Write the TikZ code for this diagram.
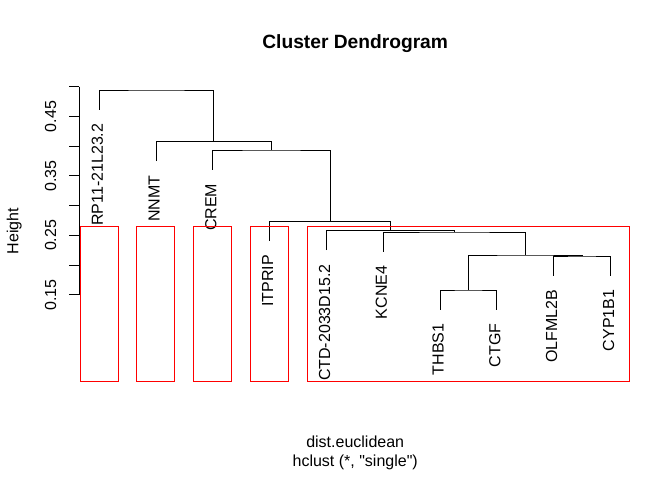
\documentclass[tikz,border=0pt]{standalone}
\usepackage{fontspec}
\setmainfont{Liberation Sans}[Ligatures=TeXOff]
\usepackage{tikz}

\begin{document}
\begin{tikzpicture}[x=1pt,y=-1pt]
\tikzset{
    leaf/.style={%
        rotate=90,
        anchor=east,
        inner sep=0pt,
        font=\fontsize{16}{19}\selectfont
        },
    lab/.style={%
        inner sep=0pt,
        font=\fontsize{16}{19}\selectfont
        },
    link/.style={%
        draw=black,
        line width=1pt
        },
    clus/.style={%
        draw=red,
        line width=1pt
        },
}
\useasboundingbox (0,0) rectangle (672,480);
%%%TITLES
\node[lab, font=\fontsize{19.2}{23}\selectfont\bfseries, anchor=base] (title) at (355.2,48) {Cluster Dendrogram};
\node[lab, anchor=base] (xlab) at (355.2,447.3) {dist.euclidean};
\node[lab, anchor=base] (sub) at (355.2,466) {hclust (*, "single")};
\node[lab, rotate=90, anchor=base] (ylab) at (18.3,231) {Height};
%%%AXIS
\draw[link] (79,86.7) -- (79,294.8);
\foreach \k in {0,...,7}
    \draw[link] (79,86.7+29.73*\k) -- (69.4,86.7+29.73*\k);
\foreach \v/\k in {0.45/1, 0.35/3, 0.25/5, 0.15/7}
    \node[lab, rotate=90, anchor=base] (tick\k) at (56,86.7+29.73*\k) {\v};
%%%LEAVES
\coordinate (rp) at (99.3,109.5);
\coordinate (nnmt) at (156.1,161.2);
\coordinate (crem) at (212.9,169.5);
\coordinate (itprip) at (269.7,240.8);
\coordinate (ctd) at (326.5,250.2);
\coordinate (kcne) at (383.3,251.5);
\coordinate (thbs) at (440.1,309.5);
\coordinate (ctgf) at (496.9,309.5);
\coordinate (olfml) at (553.7,275.5);
\coordinate (cyp) at (610.5,275.5);
\node[leaf] (lrp) at (97.3,123.5) {RP11-21L23.2};
\node[leaf] (lnnmt) at (154.1,175.2) {NNMT};
\node[leaf] (lcrem) at (210.9,183.5) {CREM};
\node[leaf] (litprip) at (267.7,254.8) {ITPRIP};
\node[leaf] (lctd) at (324.5,264.2) {CTD-2033D15.2};
\node[leaf] (lkcne) at (381.3,265.5) {KCNE4};
\node[leaf] (lthbs) at (438.1,323.5) {THBS1};
\node[leaf] (lctgf) at (494.9,323.5) {CTGF};
\node[leaf] (lolfml) at (551.7,289.5) {OLFML2B};
\node[leaf] (lcyp) at (608.5,289.5) {CYP1B1};
%%%MERGES
\coordinate (m1) at (468.5,290);
\coordinate (m2) at (582.1,256);
\coordinate (m3) at (525.3,255);
\coordinate (m4) at (454.3,232);
\coordinate (m5) at (390.4,230.7);
\coordinate (m6) at (330.05,221.3);
\coordinate (m7) at (271.5,150);
\coordinate (m8) at (213.8,141.7);
\coordinate (m9) at (156.55,90);
\draw[link] (thbs) |- (m1) -| (ctgf);
\draw[link] (olfml) |- (m2) -| (cyp);
\draw[link] (m1) |- (m3) -| (m2);
\draw[link] (kcne) |- (m4) -| (m3);
\draw[link] (ctd) |- (m5) -| (m4);
\draw[link] (itprip) |- (m6) -| (m5);
\draw[link] (crem) |- (m7) -| (m6);
\draw[link] (nnmt) |- (m8) -| (m7);
\draw[link] (rp) |- (m9) -| (m8);
%%%CLUSTERS
\draw[clus] (80,226) rectangle (118,381.7);
\draw[clus] (136.8,226) rectangle (174.8,381.7);
\draw[clus] (193.6,226) rectangle (231.6,381.7);
\draw[clus] (250.4,226) rectangle (288.4,381.7);
\draw[clus] (307.2,226) rectangle (629.2,381.7);
\end{tikzpicture}
\end{document}
